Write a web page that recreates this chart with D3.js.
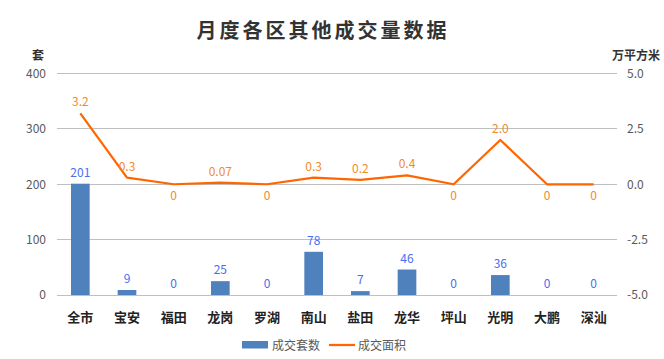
<!DOCTYPE html>
<html><head><meta charset="utf-8">
<script src="https://cdn.jsdelivr.net/npm/d3@7"></script>
<style>body{margin:0;background:#fff;} svg{display:block;}</style>
</head><body>
<script>
const categories = ["全市","宝安","福田","龙岗","罗湖","南山","盐田","龙华","坪山","光明","大鹏","深汕"];
const units = [201, 9, 0, 25, 0, 78, 7, 46, 0, 36, 0, 0];
const area = [3.2, 0.3, 0, 0.07, 0, 0.3, 0.2, 0.4, 0, 2.0, 0, 0];
const areaLabels = ["3.2","0.3","0","0.07","0","0.3","0.2","0.4","0","2.0","0","0"];
const leftTicks = [0, 100, 200, 300, 400];
const rightTicks = [-5, -2.5, 0, 2.5, 5];
const seriesNames = ["成交套数", "成交面积"];
const title = "月度各区其他成交量数据";

const W = 664, H = 359;
const svg = d3.select("body").append("svg").attr("width", W).attr("height", H);
const font = "'Noto Sans CJK SC','Microsoft YaHei',sans-serif";

const x = d3.scaleBand().domain(categories).range([57, 617]).paddingInner(0.6).paddingOuter(0.3);
const yL = d3.scaleLinear().domain([0, 400]).range([295, 73.5]);
const yR = d3.scaleLinear().domain([-5, 5]).range([295, 73.5]);

// title
svg.append("text").attr("x", 323).attr("y", 38).attr("text-anchor", "middle")
  .attr("font-family", font).attr("font-size", 20).attr("font-weight", "bold")
  .attr("letter-spacing", 3).attr("fill", "#333").text(title);

// gridlines
svg.append("g").selectAll("line").data(leftTicks).join("line")
  .attr("x1", 57).attr("x2", 617).attr("y1", d => yL(d)).attr("y2", d => yL(d))
  .attr("stroke", "#bfbfbf").attr("stroke-width", 1).attr("shape-rendering", "crispEdges");

// left axis
const axL = d3.axisLeft(yL).tickValues(leftTicks).tickSize(0).tickPadding(0);
const gL = svg.append("g").attr("transform", "translate(46,0)").call(axL);
gL.select(".domain").remove();
gL.selectAll("text").attr("font-family", font).attr("font-size", 12).attr("fill", "#595959");

// right axis
const axR = d3.axisRight(yR).tickValues(rightTicks).tickSize(0).tickPadding(0).tickFormat(d => d.toFixed(1));
const gR = svg.append("g").attr("transform", "translate(627,0)").call(axR);
gR.select(".domain").remove();
gR.selectAll("text").attr("font-family", font).attr("font-size", 12).attr("fill", "#595959");

// axis unit titles
svg.append("text").attr("x", 38).attr("y", 60).attr("text-anchor", "middle")
  .attr("font-family", font).attr("font-size", 12).attr("font-weight", "bold").attr("fill", "#333").text("套");
svg.append("text").attr("x", 636).attr("y", 60).attr("text-anchor", "middle")
  .attr("font-family", font).attr("font-size", 12).attr("font-weight", "bold").attr("fill", "#333").text("万平方米");

// bars
svg.append("g").selectAll("rect").data(units).join("rect")
  .attr("x", (d, i) => x(categories[i])).attr("width", x.bandwidth())
  .attr("y", d => yL(d)).attr("height", d => yL(0) - yL(d)).attr("fill", "#4f81bd");

// bar labels
svg.append("g").selectAll("text").data(units).join("text")
  .attr("x", (d, i) => x(categories[i]) + x.bandwidth() / 2)
  .attr("y", d => yL(d) - 7).attr("text-anchor", "middle")
  .attr("font-family", font).attr("font-size", 12).attr("fill", "#4a6ef0").text(d => d);

// x labels
svg.append("g").selectAll("text").data(categories).join("text")
  .attr("x", d => x(d) + x.bandwidth() / 2).attr("y", 322).attr("text-anchor", "middle")
  .attr("font-family", font).attr("font-size", 13).attr("font-weight", "bold").attr("fill", "#222").text(d => d);

// line
const line = d3.line().x((d, i) => x(categories[i]) + x.bandwidth() / 2).y(d => yR(d));
svg.append("path").datum(area).attr("d", line).attr("fill", "none")
  .attr("stroke", "#ff6600").attr("stroke-width", 2.25).attr("stroke-linejoin", "round");

// line labels
svg.append("g").selectAll("text").data(area).join("text")
  .attr("x", (d, i) => x(categories[i]) + x.bandwidth() / 2)
  .attr("y", d => d > 0 ? yR(d) - 7 : yR(d) + 16).attr("text-anchor", "middle")
  .attr("font-family", font).attr("font-size", 12).attr("fill", "#f28a2c").text((d, i) => areaLabels[i]);

// legend
const lg = svg.append("g");
lg.append("rect").attr("x", 242).attr("y", 341).attr("width", 26).attr("height", 7.5).attr("fill", "#4f81bd");
lg.append("text").attr("x", 272).attr("y", 349.5).attr("font-family", font).attr("font-size", 12)
  .attr("fill", "#595959").text(seriesNames[0]);
lg.append("line").attr("x1", 329).attr("x2", 355).attr("y1", 345).attr("y2", 345)
  .attr("stroke", "#ff6600").attr("stroke-width", 2.25);
lg.append("text").attr("x", 358).attr("y", 349.5).attr("font-family", font).attr("font-size", 12)
  .attr("fill", "#595959").text(seriesNames[1]);
</script>
</body></html>
